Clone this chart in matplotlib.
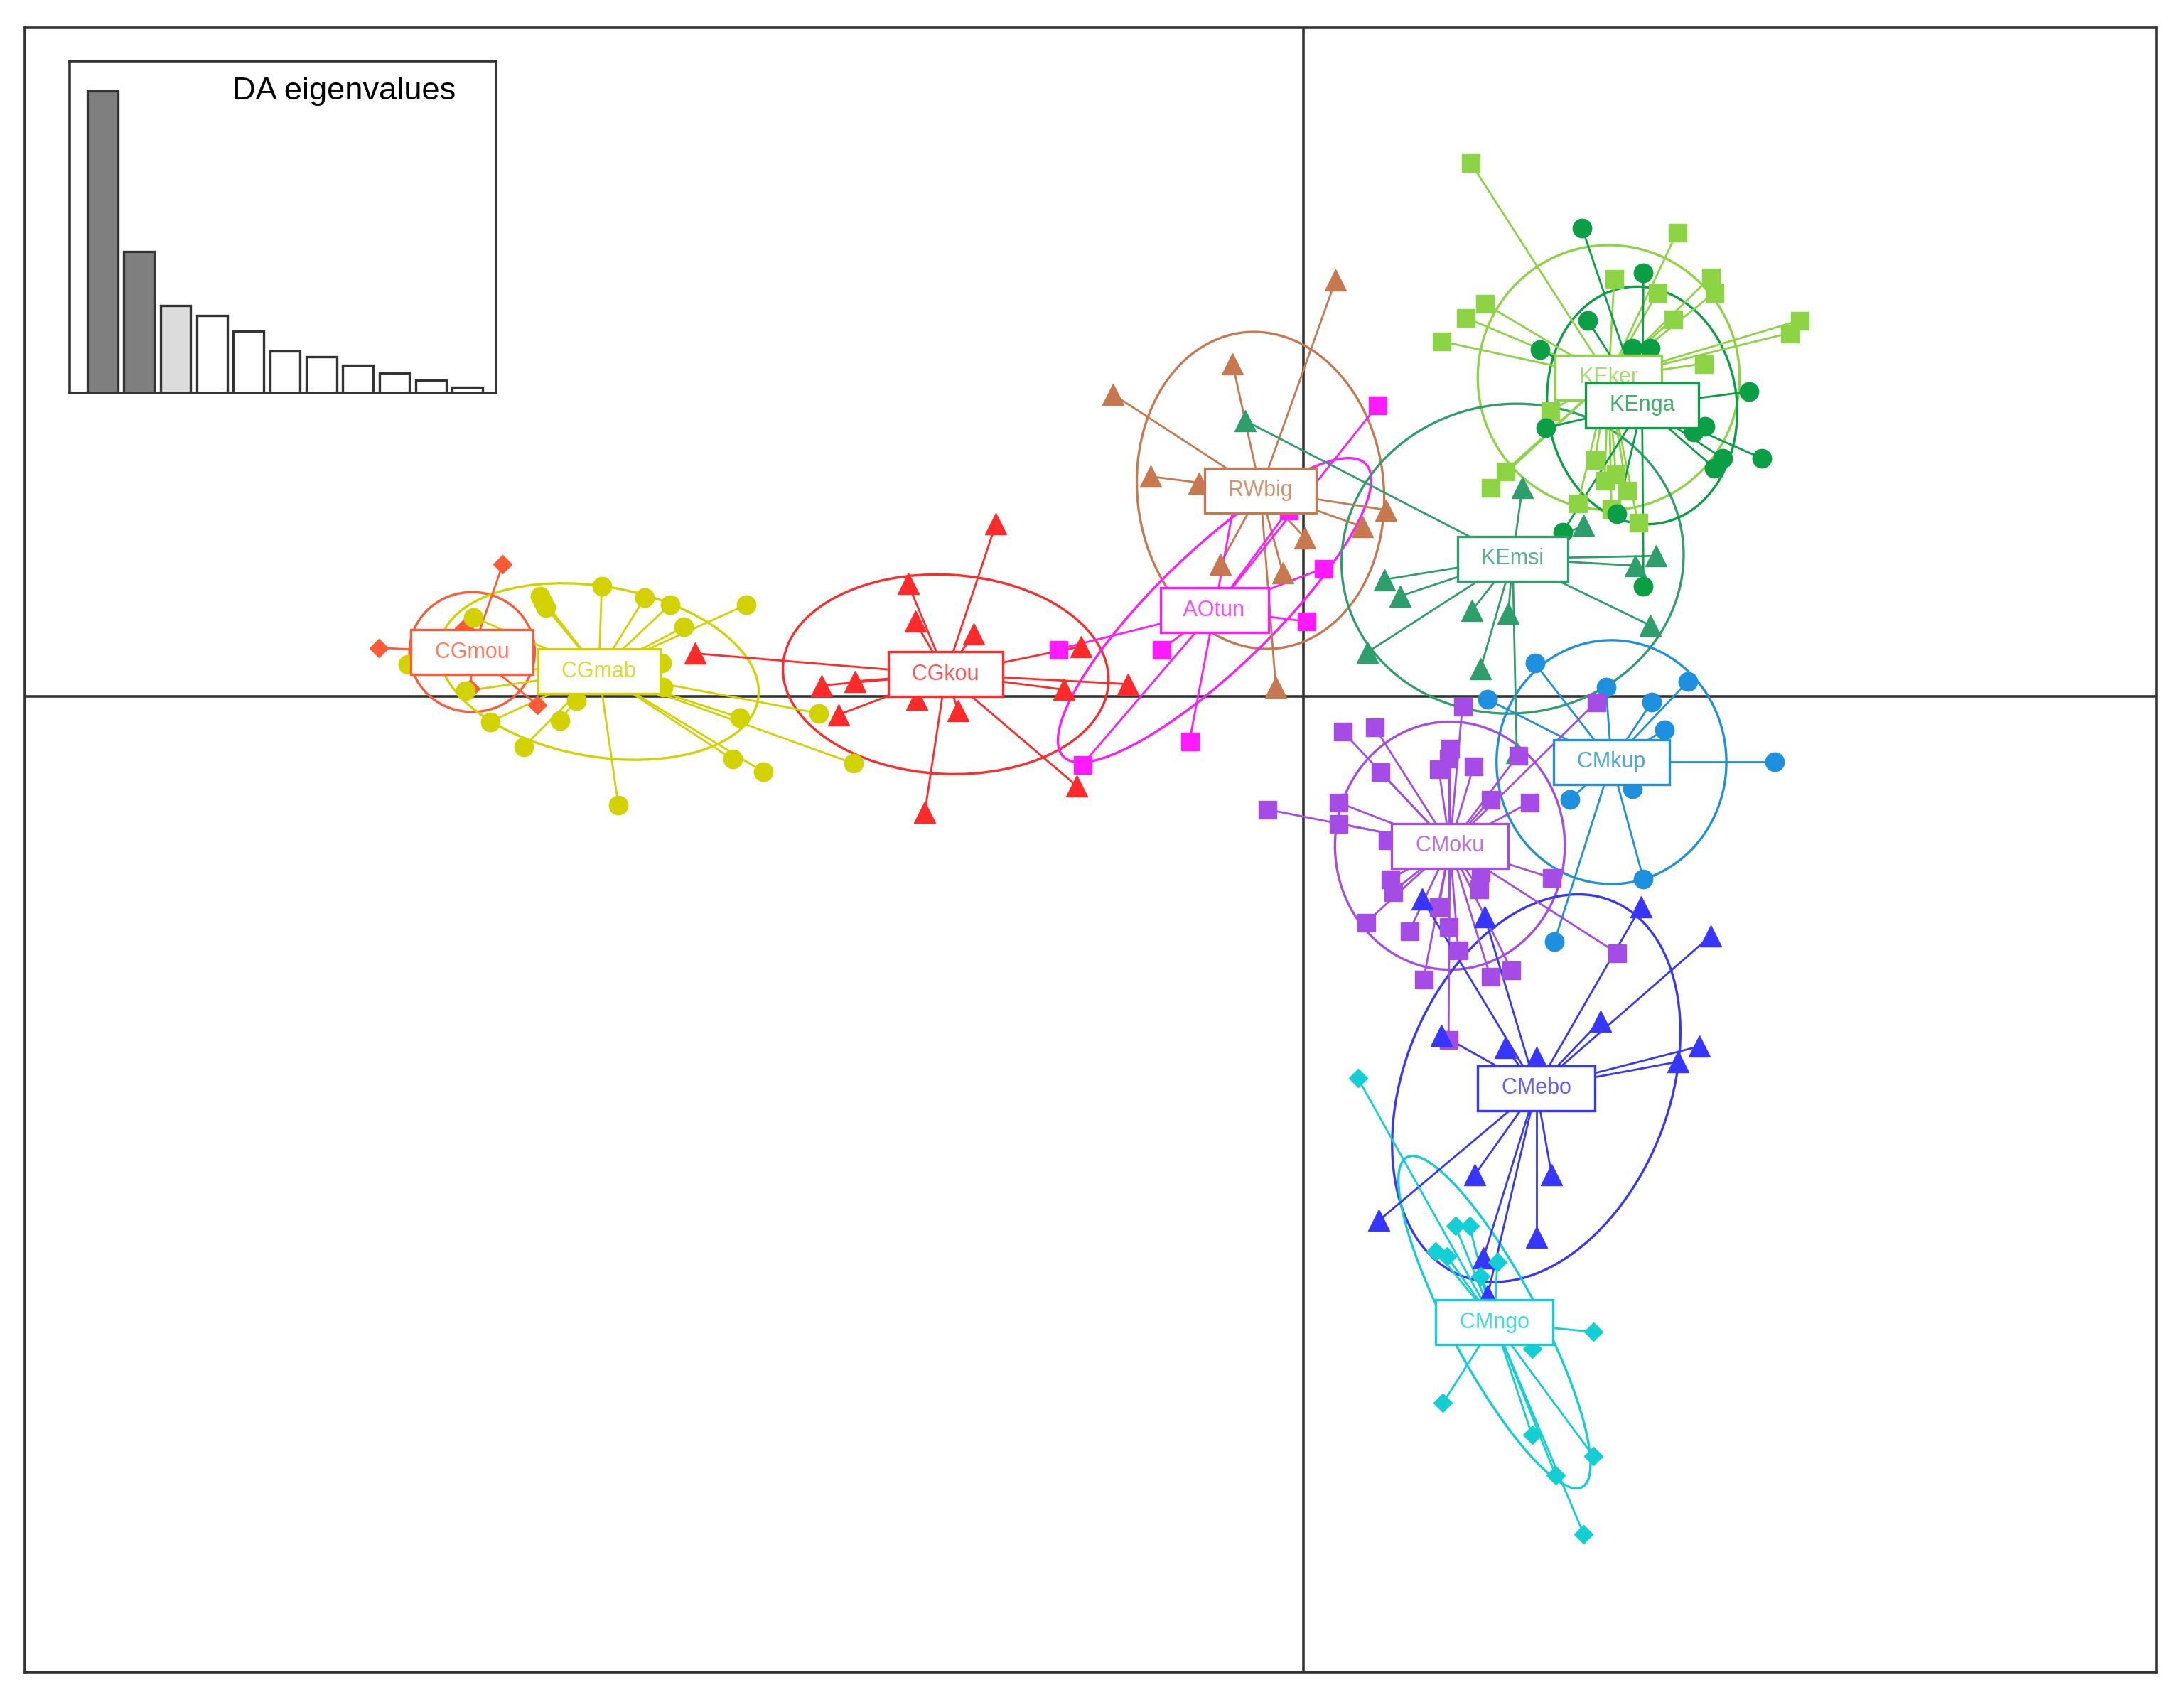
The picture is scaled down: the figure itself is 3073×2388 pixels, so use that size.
import matplotlib
matplotlib.use('Agg')
import matplotlib.pyplot as plt
from matplotlib.patches import Ellipse
from matplotlib.collections import LineCollection

plt.rcParams['font.family'] = ['Liberation Sans', 'DejaVu Sans']

# ---------------- data (LD1, LD2 scores) ----------------
groups = ['CGmou', 'CGmab', 'CGkou', 'RWbig', 'AOtun', 'KEker', 'KEmsi', 'KEnga',
          'CMkup', 'CMoku', 'CMebo', 'CMngo']
colors = ['#FF5A36', '#D2D200', '#FF2A2A', '#C8784E', '#FF1AFF', '#8CD443', '#2E9E6A',
          '#0A9E45', '#1E90E0', '#A64CE6', '#3636FF', '#12CFD6']
markers = ['D', 'o', '^', '^', 's', 's', '^', 'o', 'o', 's', '^', 'D']

centroid_x = [-5.97, -5.06, -2.57, -0.31, -0.64, 2.19, 1.50, 2.43, 2.21, 1.05, 1.67, 1.37]
centroid_y = [0.32, 0.18, 0.16, 1.48, 0.62, 2.29, 0.99, 2.09, -0.47, -1.07, -2.81, -4.49]

ell_width = [0.90, 2.32, 2.34, 1.77, 3.02, 1.88, 2.46, 1.36, 1.65, 1.65, 1.90, 2.68]
ell_height = [0.86, 1.22, 1.43, 2.28, 0.84, 1.90, 2.22, 1.71, 1.75, 1.78, 2.90, 0.64]
ell_angle = [0, -10, -3, 6, 44, 0, 7, 7, 0, 0, -22, -62]

CGmou_x = [-5.75, -6.64, -5.98, -5.50, -6.03]
CGmou_y = [0.95, 0.35, 0.06, -0.06, 0.49]

CGmab_x = [-5.96, -5.48, -5.46, -5.44, -5.04, -4.73, -4.55, -4.45, -4.00, -4.61, -4.60, -5.22,
           -5.34, -5.60, -5.84, -6.02, -6.43, -4.92, -4.05, -4.10, -3.88, -3.48, -3.23]
CGmab_y = [0.57, 0.72, 0.68, 0.64, 0.79, 0.71, 0.66, 0.50, 0.66, 0.24, 0.07, -0.03,
           -0.17, -0.36, -0.18, 0.04, 0.23, -0.78, -0.15, -0.45, -0.54, -0.12, -0.48]

CGkou_x = [-2.21, -2.84, -2.79, -2.37, -1.60, -1.26, -1.72, -2.48, -2.78, -3.34, -3.46, -3.22,
           -1.63, -2.72, -4.37]
CGkou_y = [1.24, 0.81, 0.54, 0.45, 0.36, 0.09, 0.05, -0.10, -0.02, -0.13, 0.08, 0.11,
           -0.64, -0.83, 0.31]

RWbig_x = [0.23, -0.51, -1.37, -1.10, -0.75, 0.59, 0.42, 0.01, -0.60, -0.15, -0.20]
RWbig_y = [2.99, 2.39, 2.17, 1.58, 1.53, 1.34, 1.22, 1.14, 0.95, 0.89, 0.07]

AOtun_x = [0.53, 0.14, 0.02, -1.02, -1.76, -1.59, -0.82, -0.50, -0.11]
AOtun_y = [2.09, 0.92, 0.54, 0.34, 0.34, -0.49, -0.32, 1.38, 1.34]

KEker_x = [1.20, 2.68, 2.92, 2.95, 2.23, 2.54, 2.65, 1.30, 1.16, 0.99, 3.56, 3.49, 2.87, 1.45,
           1.34, 1.77, 1.97, 2.21, 2.40, 2.09, 2.16, 2.24, 2.32]
KEker_y = [3.83, 3.33, 3.01, 2.90, 3.00, 2.90, 2.71, 2.82, 2.72, 2.55, 2.70, 2.61, 2.39, 1.62,
           1.50, 2.05, 1.39, 1.35, 1.25, 1.70, 1.55, 1.60, 1.48]

KEmsi_x = [-0.42, 0.58, 0.69, 1.21, 1.47, 1.27, 0.46, 2.49, 2.53, 2.38, 2.01, 1.57, 1.53]
KEmsi_y = [1.98, 0.84, 0.72, 0.62, 0.60, 0.20, 0.32, 0.51, 1.01, 0.94, 1.23, 1.50, -0.40]

KEnga_x = [2.00, 2.44, 2.04, 1.70, 2.36, 2.49, 3.20, 3.29, 2.95, 3.01, 2.88, 2.80, 1.74, 2.25,
           1.86, 2.44]
KEnga_y = [3.36, 3.04, 2.70, 2.49, 2.50, 2.50, 2.19, 1.71, 1.64, 1.71, 1.94, 1.90, 1.93, 1.31,
           1.18, 0.79]

CMkup_x = [1.66, 1.32, 2.17, 2.76, 2.50, 2.59, 3.38, 1.91, 2.36, 2.44, 1.80]
CMkup_y = [0.24, -0.02, 0.07, 0.11, -0.04, -0.24, -0.47, -0.74, -0.66, -1.31, -1.76]

CMoku_x = [0.28, 0.51, 1.14, 2.10, 0.55, 1.05, 1.04, 0.97, 1.22, 1.54, 1.34, 1.62, -0.26, 0.25,
           0.25, 0.60, 0.62, 1.27, 1.26, 1.78, 0.97, 0.76, 1.04, 0.45, 1.11, 2.25, 0.86, 1.34,
           1.49, 1.04, 0.64]
CMoku_y = [-0.25, -0.22, -0.07, -0.04, -0.54, -0.37, -0.44, -0.52, -0.50, -0.42, -0.74, -0.76,
           -0.81, -0.76, -0.91, -1.03, -1.31, -1.26, -1.38, -1.30, -1.51, -1.68, -1.65, -1.62,
           -1.82, -1.84, -2.03, -2.01, -1.96, -2.46, -1.40]

CMebo_x = [0.85, 1.30, 2.42, 2.92, 2.13, 2.84, 2.69, 0.99, 1.45, 1.67, 1.23, 1.78, 1.67, 0.54,
           1.29, 1.32]
CMebo_y = [-1.45, -1.58, -1.51, -1.72, -2.33, -2.51, -2.62, -2.43, -2.52, -2.59, -3.43, -3.43,
           -3.88, -3.76, -4.03, -4.30]

CMngo_x = [0.39, 1.09, 1.19, 0.95, 1.03, 1.39, 1.27, 2.08, 1.00, 1.64, 1.81, 2.08, 2.01, 1.64]
CMngo_y = [-2.74, -3.80, -3.80, -3.98, -4.02, -4.06, -4.16, -4.56, -5.07, -5.30, -5.59, -5.45,
           -6.01, -4.68]

eig_values = [126.5, 59.3, 36.5, 32.3, 26.0, 17.5, 15.0, 11.5, 8.3, 5.3, 2.2]
eig_colors = ['#7f7f7f', '#7f7f7f', '#dcdcdc'] + ['#ffffff'] * 8

points_x = [CGmou_x, CGmab_x, CGkou_x, RWbig_x, AOtun_x, KEker_x, KEmsi_x, KEnga_x,
            CMkup_x, CMoku_x, CMebo_x, CMngo_x]
points_y = [CGmou_y, CGmab_y, CGkou_y, RWbig_y, AOtun_y, KEker_y, KEmsi_y, KEnga_y,
            CMkup_y, CMoku_y, CMebo_y, CMngo_y]
marker_sizes = {'o': 9.5, '^': 10.5, 's': 9.0, 'D': 6.5}

# ---------------- figure ----------------
fig = plt.figure(figsize=(15.365, 11.94), dpi=200)
ax = fig.add_axes([0.01148, 0.01478, 0.97572, 0.96882])
ax.set_xlim(-9.18, 6.12)
ax.set_ylim(-7.00, 4.80)
ax.set_xticks([])
ax.set_yticks([])
for s in ax.spines.values():
    s.set_color('#333333')
    s.set_linewidth(1.3)

ax.axhline(0, color='#333333', lw=1.3, zorder=1)
ax.axvline(0, color='#333333', lw=1.3, zorder=1)

for i, g in enumerate(groups):
    c = colors[i]
    cx, cy = centroid_x[i], centroid_y[i]
    ax.add_patch(Ellipse((cx, cy), ell_width[i], ell_height[i], angle=ell_angle[i],
                         fill=False, ec=c, lw=1.2, zorder=2))
    segs = [[(cx, cy), (x, y)] for x, y in zip(points_x[i], points_y[i])]
    ax.add_collection(LineCollection(segs, colors=c, linewidths=1.0, zorder=3))

for i, g in enumerate(groups):
    m = markers[i]
    ax.plot(points_x[i], points_y[i], linestyle='none', marker=m, ms=marker_sizes[m],
            mfc=colors[i], mec=colors[i], mew=0.5, zorder=4)

for i, g in enumerate(groups):
    c = colors[i]
    t = ax.text(centroid_x[i], centroid_y[i], '  ' + g + '  ', ha='center', va='center',
                fontsize=11, color=c, zorder=6,
                bbox=dict(boxstyle='square,pad=0.54', fc='white', ec=c, lw=1.2))
    t.set_alpha(None)
    t.set_color(matplotlib.colors.to_rgba(c, 0.8))

# ---------------- inset eigenvalue barplot ----------------
ax2 = fig.add_axes([0.0319, 0.7685, 0.1952, 0.1954])
xpos = [0.7 + 1.2 * k for k in range(len(eig_values))]
ax2.bar(xpos, eig_values, width=1.0, color=eig_colors, edgecolor='#333333', linewidth=1.2)
ax2.set_xlim(-0.38, 13.64)
ax2.set_ylim(0, 139)
ax2.set_xticks([])
ax2.set_yticks([])
for s in ax2.spines.values():
    s.set_color('#333333')
    s.set_linewidth(1.3)
ax2.text(0.905, 0.885, 'DA eigenvalues', transform=ax2.transAxes, ha='right',
         va='baseline', fontsize=16.3, color='black')

fig.savefig('out.png', dpi=200)
